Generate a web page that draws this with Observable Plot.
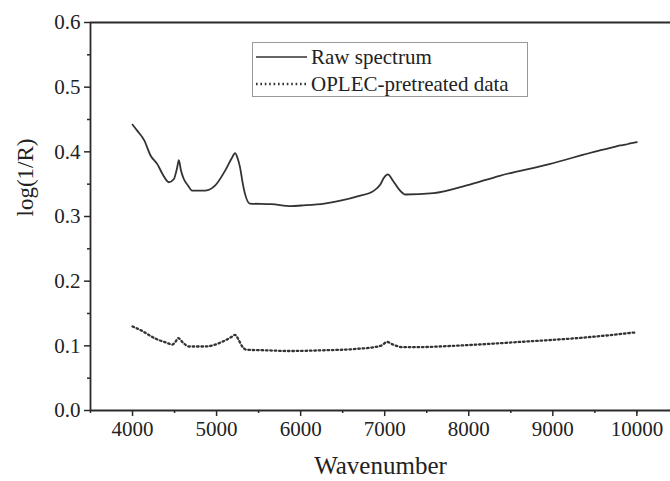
<!DOCTYPE html>
<html>
<head>
<meta charset="utf-8">
<script src="https://cdn.jsdelivr.net/npm/d3@7"></script>
<script src="https://cdn.jsdelivr.net/npm/@observablehq/plot@0.6"></script>
<style>
  html, body { margin: 0; padding: 0; background: #fff; }
  #wrap { position: relative; width: 670px; height: 481px; }
  #legend { position: absolute; left: 0; top: 0; pointer-events: none; }
</style>
</head>
<body>
<div id="wrap"></div>
<script>
// Raw spectrum (wavenumber, log(1/R))
const rawX = [4000,4060,4138,4216,4295,4360,4433,4492,4530,4551,4575,4610,4660,4708,4866,4984,5102,5180,5220,5250,5279,5310,5338,5397,5653,5889,6007,6282,6676,6873,6950,6991,7037,7100,7170,7247,7581,7975,8368,8959,9549,9746,9800,9860,9920,10000];
const rawY = [0.442,0.432,0.418,0.394,0.381,0.365,0.353,0.358,0.375,0.387,0.372,0.358,0.348,0.340,0.340,0.348,0.371,0.390,0.398,0.390,0.376,0.352,0.335,0.320,0.319,0.316,0.317,0.320,0.331,0.340,0.350,0.360,0.365,0.355,0.342,0.334,0.336,0.348,0.363,0.381,0.402,0.408,0.410,0.411,0.413,0.415];

// OPLEC-pretreated data
const oplecX = [4000,4100,4275,4400,4472,4510,4543,4600,4669,4866,5063,5180,5220,5260,5300,5358,5600,5850,6243,6636,6952,7030,7100,7207,7400,7817,8604,9392,10000];
const oplecY = [0.130,0.124,0.111,0.105,0.102,0.106,0.112,0.105,0.099,0.099,0.106,0.114,0.117,0.110,0.100,0.094,0.093,0.092,0.093,0.095,0.100,0.106,0.102,0.098,0.098,0.100,0.106,0.113,0.121];

const xMajor = [4000,5000,6000,7000,8000,9000,10000];
const xMinor = [3500,4500,5500,6500,7500,8500,9500,10000];
const yMajor = [0.0,0.1,0.2,0.3,0.4,0.5,0.6];
const yMinor = [0.05,0.15,0.25,0.35,0.45,0.55];
const seriesNames = ["Raw spectrum", "OPLEC-pretreated data"];
const xTitle = "Wavenumber";
const yTitle = "log(1/R)";

const raw = rawX.map((x, i) => ({x, y: rawY[i]}));
const oplec = oplecX.map((x, i) => ({x, y: oplecY[i]}));

const serif = "'Liberation Serif', 'Times New Roman', serif";
const ink = "#2a2a2a";
const dots = "1.6,2.8";

const chart = Plot.plot({
  width: 670,
  height: 481,
  marginLeft: 90,
  marginRight: 0,
  marginTop: 22,
  marginBottom: 71,
  style: {fontFamily: serif, background: "#fff", color: "#222", overflow: "visible"},
  x: {domain: [3500, 10400]},
  y: {domain: [0, 0.6]},
  marks: [
    Plot.axisX({ticks: xMinor, tickSize: 3, text: null, label: null, stroke: ink, strokeWidth: 1.5}),
    Plot.axisX({ticks: xMajor, tickSize: 6, tickPadding: 5, fontSize: 21, label: null, stroke: ink, strokeWidth: 1.5, fill: "#222", tickFormat: d => String(d)}),
    Plot.axisY({ticks: yMinor, tickSize: 3, text: null, label: null, stroke: ink, strokeWidth: 1.5}),
    Plot.axisY({ticks: yMajor, tickSize: 6, tickPadding: 4, fontSize: 21, label: null, stroke: ink, strokeWidth: 1.5, fill: "#222", tickFormat: d => d.toFixed(1)}),
    Plot.ruleY([0], {stroke: ink, strokeWidth: 1.8}),
    Plot.ruleY([0.6], {stroke: ink, strokeWidth: 1.8}),
    Plot.ruleX([3500], {stroke: ink, strokeWidth: 1.8}),
    Plot.line(raw, {x: "x", y: "y", stroke: "#333", strokeWidth: 1.8, curve: "monotone-x"}),
    Plot.line(oplec, {x: "x", y: "y", stroke: "#333", strokeWidth: 2.3, strokeDasharray: dots, curve: "monotone-x"}),
    Plot.text([xTitle], {frameAnchor: "bottom", dy: 63, fontSize: 25, fill: "#222"}),
    Plot.text([yTitle], {frameAnchor: "left", dx: -65, rotate: -90, fontSize: 23, fill: "#222"})
  ]
});

const wrap = document.getElementById("wrap");
wrap.appendChild(chart);

// Legend overlay
const ns = "http://www.w3.org/2000/svg";
const leg = document.createElementNS(ns, "svg");
leg.setAttribute("id", "legend");
leg.setAttribute("width", 670);
leg.setAttribute("height", 481);
const box = document.createElementNS(ns, "rect");
box.setAttribute("x", 252.5); box.setAttribute("y", 42.5);
box.setAttribute("width", 275); box.setAttribute("height", 54);
box.setAttribute("fill", "#fff"); box.setAttribute("stroke", "#999"); box.setAttribute("stroke-width", 1);
leg.appendChild(box);
const styles = [{dash: null, w: 1.7}, {dash: dots, w: 2.3}];
seriesNames.forEach((name, i) => {
  const cy = 57 + i * 27;
  const ln = document.createElementNS(ns, "line");
  ln.setAttribute("x1", 256); ln.setAttribute("x2", 307);
  ln.setAttribute("y1", cy); ln.setAttribute("y2", cy);
  ln.setAttribute("stroke", "#333"); ln.setAttribute("stroke-width", styles[i].w);
  if (styles[i].dash) ln.setAttribute("stroke-dasharray", styles[i].dash);
  leg.appendChild(ln);
  const tx = document.createElementNS(ns, "text");
  tx.setAttribute("x", 311); tx.setAttribute("y", cy);
  tx.setAttribute("dy", "0.35em");
  tx.setAttribute("font-family", serif);
  tx.setAttribute("font-size", 21);
  tx.setAttribute("fill", "#222");
  tx.textContent = name;
  leg.appendChild(tx);
});
wrap.appendChild(leg);
</script>
</body>
</html>
